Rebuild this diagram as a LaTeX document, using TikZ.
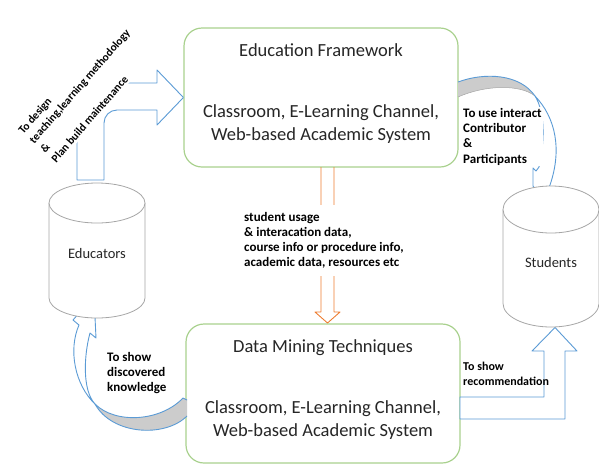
\documentclass[tikz,border=0pt]{standalone}
\usepackage{fontspec}
\setmainfont{Carlito}
\usetikzlibrary{positioning}
\definecolor{frm}{HTML}{A9D18E}
\definecolor{flw}{HTML}{5B9BD5}
\definecolor{dat}{HTML}{ED7D31}
\definecolor{txt}{HTML}{262626}
\tikzset{
  box/.style ={draw=frm, line width=1.2pt, rounded corners=18pt, fill=white,
               minimum width=274pt, minimum height=139pt},
  cyl/.style ={draw=black!35, line width=0.8pt, fill=white},
  flow/.style={draw=flw, line width=0.9pt, line join=round},
  data/.style={draw=dat, line width=0.9pt, line join=round},
  big/.style ={font=\fontsize{18.5}{23}\selectfont, text=txt, inner sep=0pt, align=center},
  mid/.style ={font=\fontsize{14.5}{17}\selectfont, text=txt, inner sep=0pt},
  lbl/.style ={font=\bfseries\fontsize{13}{15.3}\selectfont, align=left, inner sep=1pt, text=black},
}
\begin{document}
\begin{tikzpicture}[x=1pt,y=1pt]
\useasboundingbox (0,0) rectangle (599,-464);
\node[box] (frame) at (321,-97.5) {};
\node[big, anchor=base] (frametitle) at ([yshift=-29pt]frame.north) {Education Framework};
\node[big, anchor=north] (framebody) at ([yshift=-77pt]frame.north)
  {Classroom, E-Learning Channel,\\Web-based Academic System};
\node[box] (mining) at (323,-393.5) {};
\node[big, anchor=base] (miningtitle) at ([yshift=-29pt]mining.north) {Data Mining Techniques};
\node[big, anchor=north] (miningbody) at ([yshift=-77pt]mining.north)
  {Classroom, E-Learning Channel,\\Web-based Academic System};
% bent arrow: educators -> framework
\draw[flow, fill=white] (77,-180) -- (77,-123) arc[start angle=180, end angle=90, radius=40]
  -- (157,-83) -- (157,-70) -- (frame.west) -- (157,-125) -- (157,-110) -- (117,-110)
  arc[start angle=90, end angle=180, radius=13] -- (104,-180) -- cycle;
% curved arrow: framework -> students
\fill[black!20] (458,-82) .. controls (485,-72) and (520,-74) .. (535,-96)
  .. controls (520,-84) and (485,-85) .. (458,-97) -- cycle;
\draw[black!35, line width=0.5pt] (535,-96) .. controls (520,-84) and (485,-85) .. (458,-97);
\draw[flow] (458,-82) .. controls (485,-72) and (520,-74) .. (535,-96);
\draw[flow, fill=white] (535,-96) .. controls (556,-118) and (562,-150) .. (550,-185)
  -- (543,-200) -- (533,-186) -- (533,-168) -- (536,-171) -- (539,-167)
  .. controls (545,-140) and (545,-112) .. (535,-96) -- cycle;
% curved arrow: mining -> educators
\fill[black!20] (95,-404) .. controls (112,-435) and (165,-438) .. (187,-416) -- (187,-399)
  -- (183,-398) .. controls (160,-422) and (115,-424) .. (95,-404) -- cycle;
\draw[flow] (95,-404) .. controls (112,-435) and (165,-438) .. (187,-416);
\draw[flow] (187,-400) -- (183,-398) .. controls (160,-422) and (115,-424) .. (95,-404);
\draw[flow, fill=white] (79,-325) -- (73,-320) -- (94,-296) -- (96,-338) -- (90,-333)
  .. controls (84,-355) and (82,-390) .. (95,-404)
  .. controls (75,-385) and (68,-350) .. (79,-325) -- cycle;
% bent arrow: mining -> students
\draw[flow, fill=white] (460,-397) -- (544,-397) -- (544,-351) -- (532,-351) -- (555,-327.5)
  -- (577,-351) -- (565,-351) -- (565,-419) -- (460,-419) -- cycle;
% data arrow: framework -> mining
\draw[data] (321,-167) -- (321,-312) -- (315,-312) -- (327.5,-323) -- (340,-312)
  -- (334,-312) -- (334,-167);
% databases
\draw[cyl] (49,-203) -- (49,-298) arc[start angle=180, end angle=360, x radius=48, y radius=20]
  -- (145,-203) arc[start angle=0, end angle=180, x radius=48, y radius=20] -- cycle;
\draw[cyl] (49,-203) arc[start angle=180, end angle=360, x radius=48, y radius=20];
\node[mid, anchor=base] (edu) at (97,-258) {Educators};
\draw[cyl] (503,-209.5) -- (503,-303.5) arc[start angle=180, end angle=360, x radius=48, y radius=23.5]
  -- (599,-209.5) arc[start angle=0, end angle=180, x radius=48, y radius=23.5] -- cycle;
\draw[cyl] (503,-209.5) arc[start angle=180, end angle=360, x radius=48, y radius=23.5];
\node[mid, anchor=base] (stu) at (551,-267) {Students};
% labels
\node[lbl, fill=white, rotate=49, font=\bfseries\fontsize{11.3}{14.5}\selectfont, inner sep=2pt]
  (design) at (85,-91)
  {To design\\teaching,learning methodology\\\&\\Plan build maintenance};
\node[lbl, fill=white, anchor=north west] (use) at (462,-107)
  {To use interact\\Contributor\\\&\\Participants};
\node[lbl, fill=white, anchor=north west, inner xsep=3pt, inner ysep=7pt] (usage) at (241,-204.7)
  {student usage\\\& interacation data,\\course info or procedure info,\\academic data, resources etc};
\node[lbl, anchor=north west] (show) at (106,-351) {To show\\discovered\\knowledge};
\node[lbl, font=\bfseries\fontsize{12}{15}\selectfont, anchor=north west] (rec) at (462,-361)
  {To show\\recommendation};
\end{tikzpicture}
\end{document}
